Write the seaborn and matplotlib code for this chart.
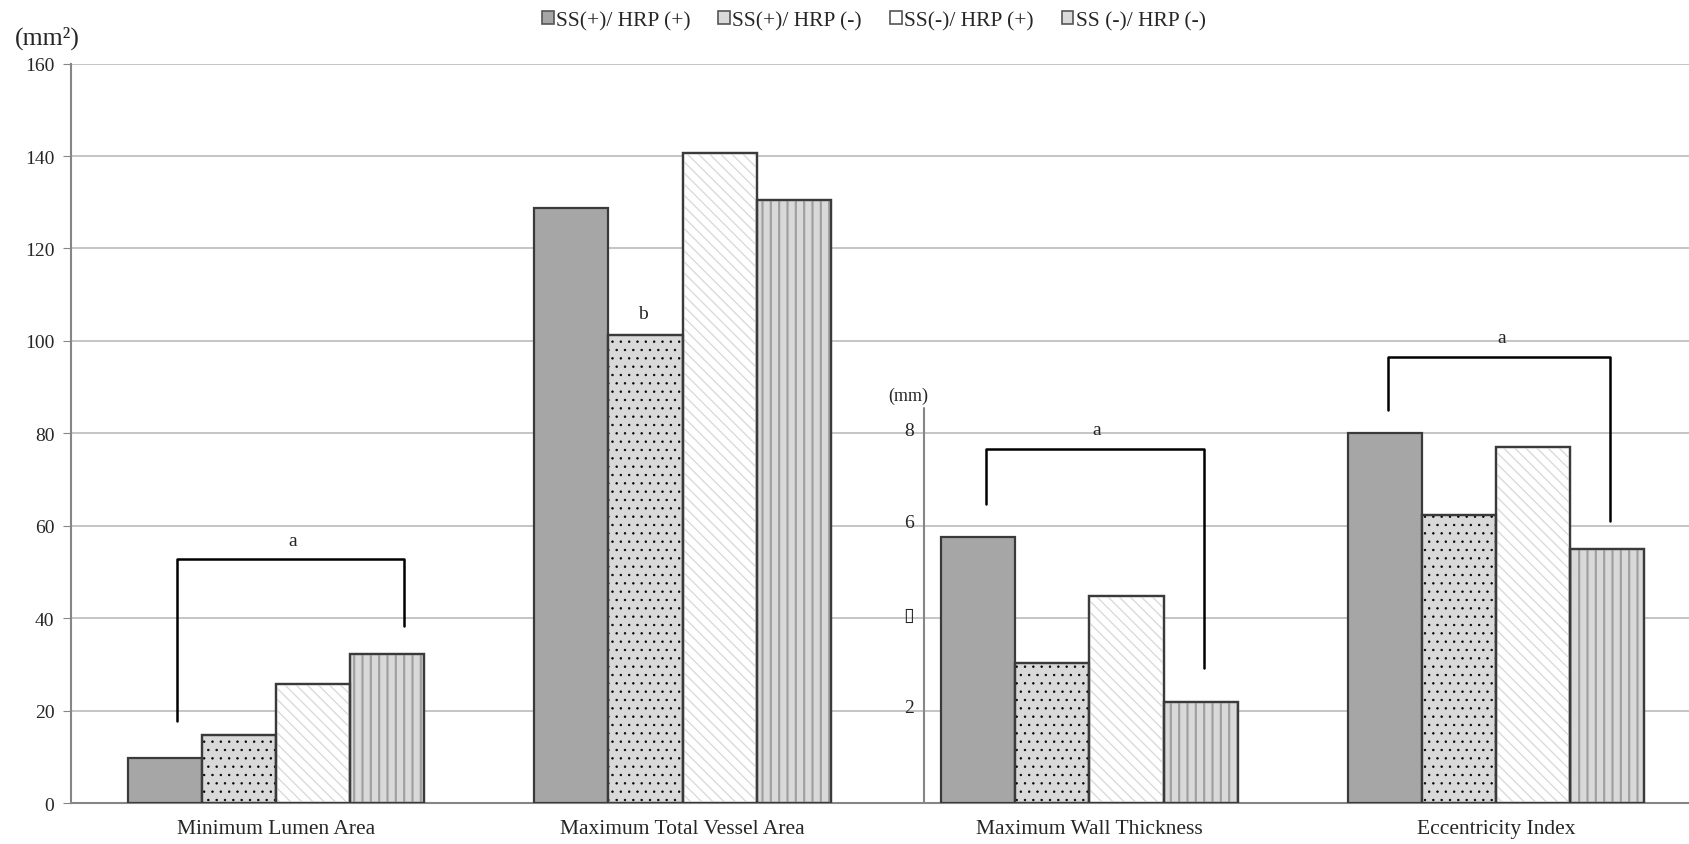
import numpy as np
import pandas as pd
import matplotlib
matplotlib.use("Agg")
import matplotlib.pyplot as plt
import matplotlib.patches as mpatches
import seaborn as sns


# DATA

measures = [
    "Minimum Lumen Area",
    "Maximum Total Vessel Area",
    "Maximum Wall Thickness",
    "Eccentricity Index"
]
groups = ["SS(+)/ HRP (+)", "SS(+)/ HRP (-)", "SS(-)/ HRP (+)", "SS (-)/ HRP (-)"]

# values per group (same order as groups)
min_lumen_area = [9.8, 14.7, 25.7, 32.2]          # mm2
max_vessel_area = [128.7, 101.2, 140.6, 130.6]     # mm2
max_wall_thickness = [5.76, 3.03, 4.48, 2.19]      # mm (inset axis)
eccentricity_index = [80.0, 62.3, 77.0, 55.0]

mm_ticks = [8, 6, 4, 2]
mm_tick_labels = ["8", "6", "\u25af", "2"]   # the "4" shows as a missing glyph box
mm_scale = 10   # 1 mm on the inset axis = 10 units of main axis

# significance brackets: (left x, left bottom, top, right x, right bottom, label)
brackets = [
    (-0.244, 17.7, 52.7, 0.315, 38.3, "a"),
    (1.746, 64.8, 76.7, 2.281, 29.2, "a"),
    (2.735, 85.1, 96.6, 3.281, 61.1, "a"),
]
letter_b = (0.902, 105.9, "b")

# STYLE

fills = ["#a6a6a6", "#d9d9d9", "#ffffff", "#d9d9d9"]
hatches = [None, "..", "\\\\\\", "||"]
hatch_colors = [None, "#000000", "#dadada", "#a0a0a0"]
hatch_lws = [None, 0.5, 1.0, 1.6]
edge = "#3a3a3a"
grid_c = "#c0c0c0"
axis_c = "#868686"

sns.set_style("white")
plt.rcParams["font.family"] = ["Liberation Serif", "DejaVu Sans"]

# TABLE

rows = []
for gi, g in enumerate(groups):
    vals = [min_lumen_area[gi], max_vessel_area[gi],
            max_wall_thickness[gi] * mm_scale, eccentricity_index[gi]]
    for m, v in zip(measures, vals):
        rows.append({"measure": m, "group": g, "value": v})
df = pd.DataFrame(rows)

# PLOT

fig = plt.figure(figsize=(16.9, 8.45), dpi=100)
ax = fig.add_axes([0.042, 0.0485, 0.958, 0.875])

sns.barplot(
    data=df, x="measure", y="value", hue="group",
    order=measures, hue_order=groups,
    palette=fills, saturation=1, width=0.73,
    edgecolor=edge, linewidth=1.6, legend=False, ax=ax, zorder=3
)

# hatch overlays in their own colour and weight
for i, cont in enumerate(ax.containers):
    if hatches[i] is None:
        continue
    for bar in cont:
        with plt.rc_context({"hatch.linewidth": hatch_lws[i]}):
            over = mpatches.Rectangle(
                bar.get_xy(), bar.get_width(), bar.get_height(),
                fill=False, hatch=hatches[i], edgecolor=hatch_colors[i],
                linewidth=0, zorder=3.5
            )
        if hasattr(over, "set_hatch_linewidth"):
            over.set_hatch_linewidth(hatch_lws[i])
        ax.add_patch(over)
        outline = mpatches.Rectangle(
            bar.get_xy(), bar.get_width(), bar.get_height(),
            fill=False, edgecolor=edge, linewidth=1.6, zorder=3.6
        )
        ax.add_patch(outline)

ax.set_ylim(0, 160)
ax.set_xlim(-0.504, 3.477)
ax.set_yticks(np.arange(0, 161, 20))
ax.yaxis.grid(True, color=grid_c, linewidth=1.3, zorder=0)
ax.set_axisbelow(True)
ax.set_xlabel("")
ax.set_ylabel("")

for s in ["top", "right"]:
    ax.spines[s].set_visible(False)
for s in ["left", "bottom"]:
    ax.spines[s].set_color(axis_c)
    ax.spines[s].set_linewidth(1.5)

ax.tick_params(axis="y", left=True, length=6, color=axis_c, labelsize=14, pad=6)
ax.tick_params(axis="x", bottom=False, labelsize=15.5, pad=8)

fig.text(0.009, 0.955, "(mm\u00b2)", fontsize=18.5, ha="left", va="center")

# inset mm axis for wall thickness
inset_x = 1.594
ax.plot([inset_x, inset_x], [0, 85.4], color=axis_c, lw=1.5, zorder=4)
ax.text(inset_x + 0.01, 88.3, "(mm)", fontsize=13, ha="right", va="center")
for t, lab in zip(mm_ticks, mm_tick_labels):
    ax.text(inset_x - 0.025, t * mm_scale + 0.6, lab, fontsize=14,
            ha="right", va="center")

# brackets
for lx, lb, top, rx, rb, lab in brackets:
    ax.plot([lx, lx, rx, rx], [lb, top, top, rb], color="black", lw=1.8, zorder=5)
    ax.text((lx + rx) / 2 + 0.005, top + 4.2, lab, fontsize=14,
            ha="center", va="center")
ax.text(letter_b[0], letter_b[1], letter_b[2], fontsize=14, ha="center", va="center")

# legend
handles = [
    mpatches.Patch(facecolor=fills[i], edgecolor="#555555", linewidth=1.2, label=g)
    for i, g in enumerate(groups)
]
fig.legend(handles=handles, loc="center", bbox_to_anchor=(0.517, 0.974),
           ncol=4, frameon=False, fontsize=15.5, handlelength=0.55,
           handleheight=0.55, handletextpad=0.1, columnspacing=1.3)

fig.savefig("out.png", dpi=100)
